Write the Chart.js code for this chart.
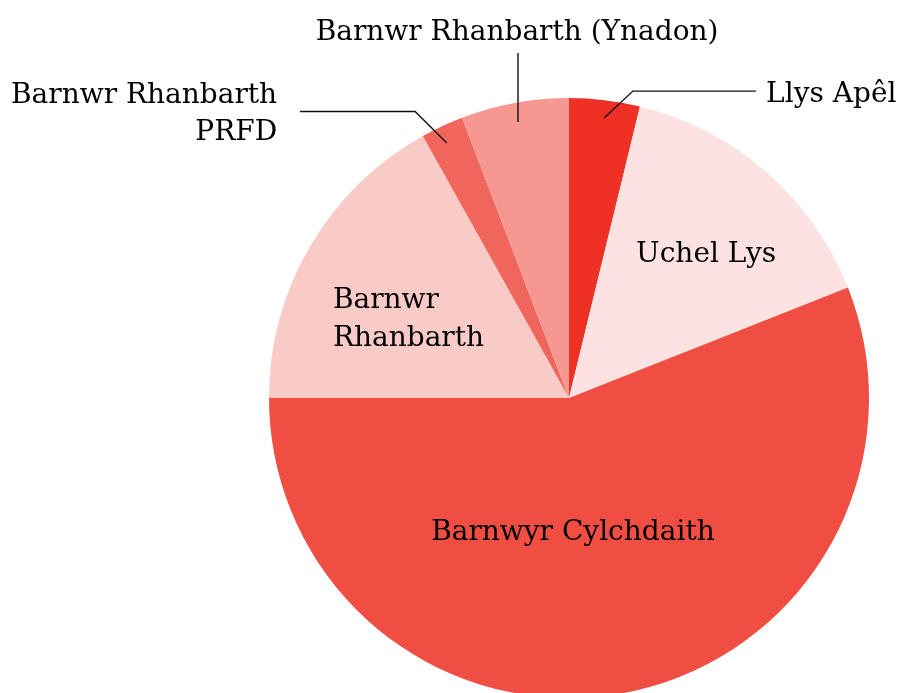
<!DOCTYPE html>
<html>
<head>
<meta charset="utf-8">
<script src="https://cdn.jsdelivr.net/npm/chart.js@4.4.0/dist/chart.umd.min.js"></script>
<style>
  html, body { margin: 0; padding: 0; background: #fff; overflow: hidden; }
  #wrap { width: 899px; height: 720px; }
</style>
</head>
<body>
<div id="wrap"><canvas id="pieChart" width="899" height="720"></canvas></div>
<script>
// Categorïau (clocwedd o'r brig)
const categories = [
    'Llys Apêl',
    'Uchel Lys',
    'Barnwyr Cylchdaith',
    'Barnwr Rhanbarth',
    'Barnwr Rhanbarth PRFD',
    'Barnwr Rhanbarth (Ynadon)'
];

// Cyfran (%) pob categori, wedi'i darllen o'r llun
const shares = [3.8, 15.2, 56.0, 16.9, 2.3, 5.8];

// Lliwiau'r sleisys
const sliceColors = ['#ee3124', '#fce3e1', '#f04e42', '#f9cbc6', '#f1665c', '#f69891'];

// Labeli: safle fel ffracsiwn o'r radiws, o'r canol
const sliceLabels = [
    { lines: ['Llys Apêl'], x: 0.657, y: [-0.987], align: 'left',
      leader: [[0.117, -0.933], [0.213, -1.023], [0.623, -1.023]] },
    { lines: ['Uchel Lys'], x: 0.457, y: [-0.453], align: 'center' },
    { lines: ['Barnwyr Cylchdaith'], x: 0.013, y: [0.473], align: 'center' },
    { lines: ['Barnwr', 'Rhanbarth'], x: -0.787, y: [-0.3, -0.173], align: 'left' },
    { lines: ['Barnwr Rhanbarth', 'PRFD'], x: -0.973, y: [-0.983, -0.86], align: 'right',
      leader: [[-0.407, -0.85], [-0.513, -0.955], [-0.897, -0.955]] },
    { lines: ['Barnwr Rhanbarth (Ynadon)'], x: -0.173, y: [-1.193], align: 'center',
      leader: [[-0.17, -0.92], [-0.17, -1.15]] }
];

const labelFont = '28px "DejaVu Serif", serif';

// Ategyn i dynnu'r labeli a'r llinellau
const labelPlugin = {
    id: 'sliceLabels',
    afterDraw(chart) {
        const arc = chart.getDatasetMeta(0).data[0];
        if (!arc) return;
        const cx = arc.x, cy = arc.y, r = arc.outerRadius;
        const ctx = chart.ctx;
        ctx.save();
        ctx.font = labelFont;
        ctx.fillStyle = '#000';
        ctx.textBaseline = 'alphabetic';
        ctx.strokeStyle = '#111';
        ctx.lineWidth = 1.4;
        sliceLabels.forEach(lbl => {
            if (lbl.leader) {
                ctx.beginPath();
                lbl.leader.forEach((p, i) => {
                    const px = cx + p[0] * r, py = cy + p[1] * r;
                    if (i === 0) ctx.moveTo(px, py); else ctx.lineTo(px, py);
                });
                ctx.stroke();
            }
            ctx.textAlign = lbl.align;
            lbl.lines.forEach((t, i) => {
                ctx.fillText(t, cx + lbl.x * r, cy + lbl.y[i] * r);
            });
        });
        ctx.restore();
    }
};

new Chart(document.getElementById('pieChart').getContext('2d'), {
    type: 'pie',
    data: {
        labels: categories,
        datasets: [{
            data: shares,
            backgroundColor: sliceColors,
            borderWidth: 0
        }]
    },
    options: {
        responsive: false,
        animation: false,
        layout: {
            padding: { left: 269, right: 30, top: 98, bottom: 22 }
        },
        plugins: {
            legend: { display: false },
            tooltip: { enabled: false }
        }
    },
    plugins: [labelPlugin]
});
</script>
</body>
</html>
